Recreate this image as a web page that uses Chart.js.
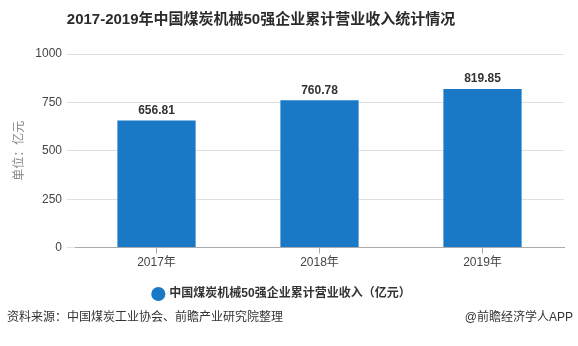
<!DOCTYPE html>
<html>
<head>
<meta charset="utf-8">
<script src="https://cdn.jsdelivr.net/npm/chart.js@4/dist/chart.umd.min.js"></script>
<style>
  html, body { margin: 0; padding: 0; background: #fff; }
  #wrap { position: relative; width: 578px; height: 346px; }
</style>
</head>
<body>
<div id="wrap"><canvas id="chart" width="578" height="346"></canvas></div>
<script>
// Daten
const years = ['2017年', '2018年', '2019年'];
const revenue = [656.81, 760.78, 819.85];
const yTicks = [0, 250, 500, 750, 1000];

const titleText = '2017-2019年中国煤炭机械50强企业累计营业收入统计情况';
const seriesName = '中国煤炭机械50强企业累计营业收入（亿元）';
const sourceText = '资料来源：中国煤炭工业协会、前瞻产业研究院整理';
const brandText = '@前瞻经济学人APP';

const FONT = "'Liberation Sans', 'Noto Sans CJK SC', sans-serif";
const barColor = '#1a79c6';

// Titel, Werte über den Balken und Quellenzeile zeichnen
const extraText = {
  id: 'extraText',
  afterDatasetsDraw(chart) {
    const ctx = chart.ctx;
    ctx.save();
    ctx.fillStyle = '#333';
    ctx.textAlign = 'center';
    ctx.textBaseline = 'middle';
    ctx.font = 'bold 12px ' + FONT;
    chart.getDatasetMeta(0).data.forEach((bar, i) => {
      ctx.fillText(revenue[i].toFixed(2), bar.x, bar.y - 10);
    });

    ctx.font = 'bold 15px ' + FONT;
    ctx.fillStyle = '#2b2b2b';
    ctx.fillText(titleText, 261, 20);

    ctx.font = '12px ' + FONT;
    ctx.fillStyle = '#333';
    ctx.textAlign = 'left';
    ctx.fillText(sourceText, 7, 318);
    ctx.textAlign = 'right';
    ctx.fillText(brandText, 573, 318);
    ctx.restore();
  }
};

const config = {
  type: 'bar',
  data: {
    labels: years,
    datasets: [{
      label: seriesName,
      data: revenue,
      backgroundColor: barColor,
      categoryPercentage: 1,
      barPercentage: 0.48
    }]
  },
  options: {
    responsive: false,
    animation: false,
    layout: { padding: { top: 54, right: 14, bottom: 36, left: 0 } },
    scales: {
      x: {
        grid: { drawOnChartArea: false, offset: false, tickLength: 6, color: '#aaa' },
        border: { color: '#aaa' },
        ticks: { color: '#444', padding: 2, font: { size: 12, family: FONT } }
      },
      y: {
        min: 0,
        max: 1000,
        afterFit: s => { s.width = 75; },
        afterBuildTicks: s => { s.ticks = yTicks.map(v => ({ value: v })); },
        grid: { color: '#e0e0e0', tickLength: 8 },
        border: { display: false },
        ticks: {
          color: '#444',
          padding: 5,
          font: { size: 12, family: FONT },
          callback: v => String(v)
        },
        title: {
          display: true,
          text: '单位：亿元',
          color: '#888',
          padding: { top: 12, bottom: 0 },
          font: { size: 12, family: FONT }
        }
      }
    },
    plugins: {
      legend: {
        position: 'bottom',
        labels: {
          usePointStyle: true,
          pointStyle: 'circle',
          boxWidth: 10,
          boxHeight: 10,
          padding: 16,
          color: '#333',
          font: { size: 12, weight: 'bold', family: FONT }
        }
      },
      tooltip: { enabled: false }
    }
  },
  plugins: [extraText]
};

new Chart(document.getElementById('chart'), config);
</script>
</body>
</html>
